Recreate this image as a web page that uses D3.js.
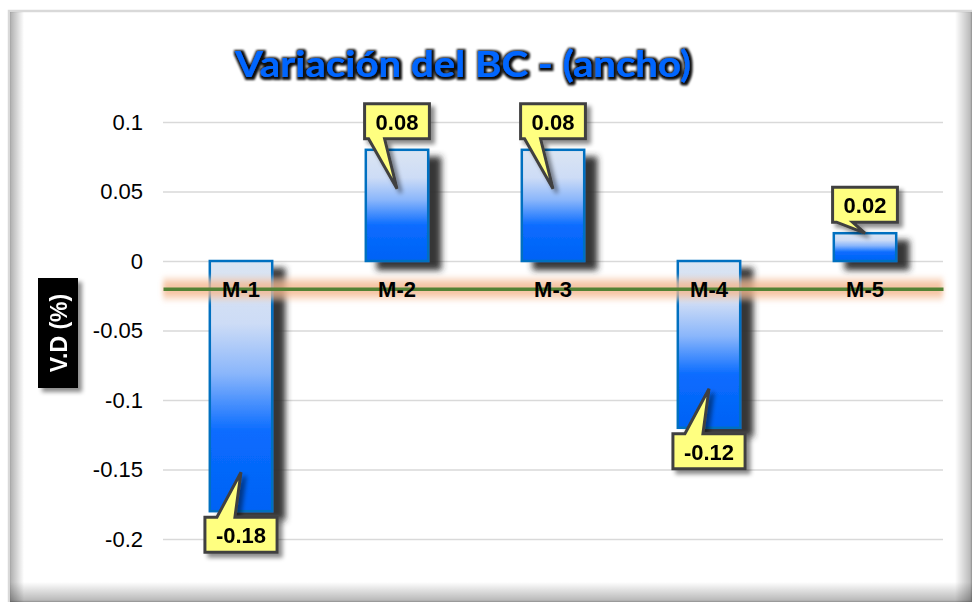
<!DOCTYPE html>
<html>
<head>
<meta charset="utf-8">
<script src="https://cdn.jsdelivr.net/npm/d3@7"></script>
<style>
  body { margin: 0; background: #fff; }
  svg { display: block; }
</style>
</head>
<body>
<svg id="chart" width="972" height="602"></svg>
<script>
// ---- data ----
const categories = ["M-1", "M-2", "M-3", "M-4", "M-5"];
const values = [-0.18, 0.08, 0.08, -0.12, 0.02];
const valueLabels = ["-0.18", "0.08", "0.08", "-0.12", "0.02"];
const yTicks = [0.1, 0.05, 0, -0.05, -0.1, -0.15, -0.2];
const axisCrossing = -0.02;          // category axis crosses the value axis here
const chartTitle = "Variación del BC - (ancho)";
const yAxisTitle = "V.D (%)";

const W = 972, H = 602;
const plot = { left: 163, right: 943, top: 122, bottom: 539 };
const FONT = "Liberation Sans, Arial, sans-serif";

const svg = d3.select("#chart");
const defs = svg.append("defs");

// bar fill: pale at the top, saturated blue toward the bottom
const grad = defs.append("linearGradient").attr("id", "barFill")
  .attr("x1", 0).attr("y1", 0).attr("x2", 0).attr("y2", 1);
[[0, "#dbe5f2"], [0.25, "#cddcf6"], [0.45, "#8ab6fb"], [0.68, "#0a6cff"], [1, "#0062f5"]]
  .forEach(([o, c]) => grad.append("stop").attr("offset", o).attr("stop-color", c));

// frame inner shading
function edgeGrad(id, x1, y1, x2, y2, a0, a1) {
  const g = defs.append("linearGradient").attr("id", id)
    .attr("x1", x1).attr("y1", y1).attr("x2", x2).attr("y2", y2);
  g.append("stop").attr("offset", 0).attr("stop-color", "#000").attr("stop-opacity", a0);
  g.append("stop").attr("offset", 1).attr("stop-color", "#000").attr("stop-opacity", a1);
}
edgeGrad("edgeLeft", 0, 0, 1, 0, 0.32, 0);
edgeGrad("edgeRight", 0, 0, 1, 0, 0, 0.3);
edgeGrad("edgeBottom", 0, 0, 0, 1, 0, 0.3);

const barShadow = defs.append("filter").attr("id", "barShadow")
  .attr("x", "-30%").attr("y", "-30%").attr("width", "190%").attr("height", "170%");
barShadow.append("feDropShadow").attr("dx", 12).attr("dy", 8).attr("stdDeviation", 3.2)
  .attr("flood-color", "#2a2a2a").attr("flood-opacity", 0.95);

const boxShadow = defs.append("filter").attr("id", "boxShadow")
  .attr("x", "-30%").attr("y", "-30%").attr("width", "160%").attr("height", "160%");
boxShadow.append("feDropShadow").attr("dx", 4).attr("dy", 4).attr("stdDeviation", 2)
  .attr("flood-color", "#000").attr("flood-opacity", 0.45);

const glowBlur = defs.append("filter").attr("id", "glowBlur")
  .attr("filterUnits", "userSpaceOnUse")
  .attr("x", 0).attr("y", 0).attr("width", W).attr("height", H);
glowBlur.append("feGaussianBlur").attr("stdDeviation", 2.5);

const titleGlow = defs.append("filter").attr("id", "titleGlow")
  .attr("x", "-10%").attr("y", "-40%").attr("width", "120%").attr("height", "180%");
titleGlow.append("feMorphology").attr("in", "SourceAlpha").attr("operator", "dilate")
  .attr("radius", 1.8).attr("result", "d");
titleGlow.append("feGaussianBlur").attr("in", "d").attr("stdDeviation", 1.3).attr("result", "b");
titleGlow.append("feOffset").attr("in", "b").attr("dx", 1).attr("dy", 1).attr("result", "o");
titleGlow.append("feFlood").attr("flood-color", "#000").attr("flood-opacity", 0.95);
titleGlow.append("feComposite").attr("in2", "o").attr("operator", "in").attr("result", "g");
const tm = titleGlow.append("feMerge");
tm.append("feMergeNode").attr("in", "g");
tm.append("feMergeNode").attr("in", "SourceGraphic");

// ---- frame ----
svg.append("rect").attr("x", 9).attr("y", 11).attr("width", W - 9).attr("height", H - 11)
  .attr("fill", "#fff").attr("stroke", "#d9d9d9").attr("stroke-width", 2.5);
svg.append("rect").attr("x", 10).attr("y", 12).attr("width", 14).attr("height", H - 12)
  .attr("fill", "url(#edgeLeft)");
svg.append("rect").attr("x", 955).attr("y", 12).attr("width", 17).attr("height", H - 12)
  .attr("fill", "url(#edgeRight)");
svg.append("rect").attr("x", 10).attr("y", 582).attr("width", W - 10).attr("height", 20)
  .attr("fill", "url(#edgeBottom)");

// ---- scales ----
const x = d3.scaleBand().domain(categories)
  .range([plot.left, plot.right]).paddingInner(0.6).paddingOuter(0.3);
const y = d3.scaleLinear().domain([-0.2, 0.1]).range([plot.bottom, plot.top]);

// gridlines
const grid = svg.append("g").attr("transform", `translate(${plot.left},0)`)
  .call(d3.axisLeft(y).tickValues(yTicks).tickSize(-(plot.right - plot.left)).tickFormat(""));
grid.select(".domain").remove();
grid.selectAll(".tick line").attr("stroke", "#d9d9d9").attr("stroke-width", 1.5);

// value axis labels
const yAxis = svg.append("g").attr("transform", `translate(${plot.left},0)`)
  .call(d3.axisLeft(y).tickValues(yTicks).tickSize(0).tickPadding(20).tickFormat(d => String(d)));
yAxis.select(".domain").remove();
yAxis.selectAll("text").attr("font-family", FONT)
  .attr("font-size", 22).attr("fill", "#000");

// ---- bars ----
const bars = svg.append("g").attr("filter", "url(#barShadow)");
bars.selectAll("rect").data(values).join("rect")
  .attr("x", (d, i) => x(categories[i]))
  .attr("width", x.bandwidth())
  .attr("y", d => y(Math.max(0, d)))
  .attr("height", d => Math.abs(y(d) - y(0)))
  .attr("fill", "url(#barFill)")
  .attr("stroke", "#0070c0").attr("stroke-width", 2.5);

// ---- category axis at the crossing value ----
const yc = y(axisCrossing);
const glow = svg.append("g").attr("filter", "url(#glowBlur)");
glow.append("rect").attr("x", plot.left).attr("width", plot.right - plot.left)
  .attr("y", yc - 12).attr("height", 24)
  .attr("fill", "#f8cbad").attr("fill-opacity", 0.5);
glow.append("rect").attr("x", plot.left).attr("width", plot.right - plot.left)
  .attr("y", yc - 7).attr("height", 14)
  .attr("fill", "#f4b183").attr("fill-opacity", 0.6);

const xAxis = svg.append("g").attr("transform", `translate(0,${yc})`)
  .call(d3.axisBottom(x).tickSize(0).tickSizeOuter(0).tickPadding(0));
xAxis.select(".domain").attr("stroke", "#548235").attr("stroke-width", 3.5);
xAxis.selectAll("text").attr("y", 0).attr("dy", "0.36em")
  .attr("font-family", FONT)
  .attr("font-weight", "bold").attr("font-size", 22).attr("fill", "#000");

// ---- value callouts ----
const callouts = svg.append("g");
values.forEach((v, i) => {
  const cx = x(categories[i]) + x.bandwidth() / 2;
  const end = y(v), base = y(0);
  const barLen = Math.abs(end - base);
  const g = callouts.append("g").attr("filter", "url(#boxShadow)");
  const path = g.append("path");
  const txt = g.append("text").text(valueLabels[i])
    .attr("font-family", FONT)
    .attr("font-weight", "bold").attr("font-size", 22).attr("fill", "#000")
    .attr("text-anchor", "middle").attr("dominant-baseline", "central");
  const w = txt.node().getComputedTextLength() + 22;
  const h = 35;
  const depth = Math.max(0, Math.min(39, barLen - 28));
  const x0 = cx - w / 2, x1 = cx + w / 2;
  let d, ty;
  if (v >= 0) {
    const y1 = end - 11, y0 = y1 - h;
    const tip = end + depth;
    d = `M${x0},${y0}H${x1}V${y1}H${x0 + 20}L${cx},${tip}L${x0 + 4},${y1}H${x0}Z`;
    ty = (y0 + y1) / 2;
  } else {
    const y0 = end + 6, y1 = y0 + h;
    const tip = end - depth;
    d = `M${x0},${y0}H${x0 + 12}L${cx},${tip}L${x0 + 30},${y0}H${x1}V${y1}H${x0}Z`;
    ty = (y0 + y1) / 2;
  }
  path.attr("d", d).attr("fill", "#ffff80").attr("stroke", "#404040")
    .attr("stroke-width", 3).attr("stroke-linejoin", "miter");
  txt.attr("x", cx).attr("y", ty + 1);
});

// ---- value axis title ----
const yt = svg.append("g").attr("filter", "url(#boxShadow)");
yt.append("rect").attr("x", 38).attr("y", 278).attr("width", 40).attr("height", 110).attr("fill", "#000");
yt.append("text").text(yAxisTitle)
  .attr("transform", "translate(59,333) rotate(-90)")
  .attr("text-anchor", "middle").attr("dominant-baseline", "central")
  .attr("font-family", FONT)
  .attr("font-weight", "bold").attr("font-size", 23).attr("fill", "#fff");

// ---- chart title ----
svg.append("text").text(chartTitle)
  .attr("x", 463).attr("y", 77)
  .attr("text-anchor", "middle")
  .attr("font-family", "Lato, 'Open Sans', sans-serif")
  .attr("font-weight", "bold").attr("font-size", 37)
  .attr("textLength", 456).attr("lengthAdjust", "spacingAndGlyphs")
  .attr("fill", "#0066ff")
  .attr("filter", "url(#titleGlow)");
</script>
</body>
</html>
